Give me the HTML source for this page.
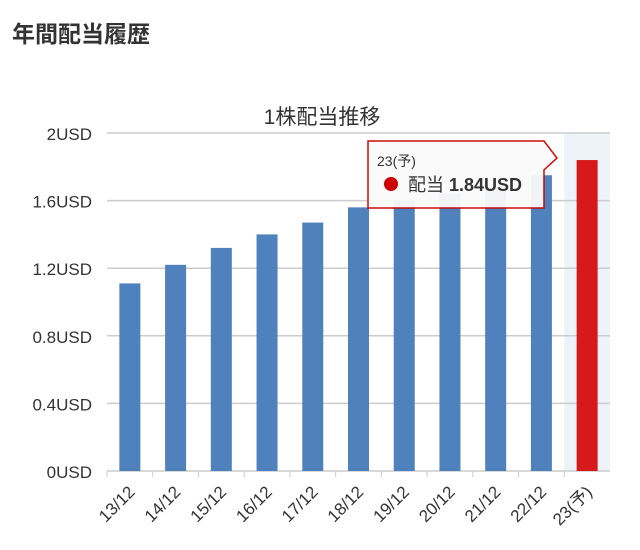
<!DOCTYPE html>
<html><head><meta charset="utf-8"><style>
body{margin:0;background:#fff;width:640px;height:545px;overflow:hidden;font-family:"Liberation Sans","Noto Sans CJK JP",sans-serif}
svg text{font-family:"Liberation Sans","Noto Sans CJK JP",sans-serif}
</style></head><body>
<svg id="c" width="640" height="545">
<text x="12" y="42" font-size="23" font-weight="bold" fill="#333">年間配当履歴</text>
<text x="322" y="124" font-size="21" fill="#333" text-anchor="middle">1株配当推移</text>
<g id="grid"></g><g id="bars"></g><g id="xl"></g>
<g>
<path d="M368,141 H544 L557,158 L544,170 V208 H368 Z" fill="#fafafa" stroke="#c00" stroke-width="1.5" opacity="0.95"/>
<text x="377" y="166" font-size="14" fill="#333">23(予)</text>
<circle cx="391" cy="184" r="7" fill="#c00"/>
<text x="408" y="191" font-size="18" fill="#333">配当 <tspan font-weight="bold">1.84USD</tspan></text>
</g>
</svg>
<script>
const categories=["13/12","14/12","15/12","16/12","17/12","18/12","19/12","20/12","21/12","22/12","23(予)"];
const values=[1.11,1.22,1.32,1.40,1.47,1.56,1.60,1.64,1.68,1.75,1.84];
const ticks=[0,0.4,0.8,1.2,1.6,2];
const tickLabels=["0USD","0.4USD","0.8USD","1.2USD","1.6USD","2USD"];
const NS="http://www.w3.org/2000/svg";
const x0=107,x1=610,y0=471,y1=133;
const bw=(x1-x0)/categories.length;
const y=v=>y0-(v/2)*(y0-y1);
const cx=i=>x0+bw*(i+0.5);
function mk(t,a,p){const e=document.createElementNS(NS,t);for(const k in a)e.setAttribute(k,a[k]);p.appendChild(e);return e;}
const g=document.getElementById('grid'),b=document.getElementById('bars'),xl=document.getElementById('xl');
const hl=mk('rect',{x:x0+bw*10,y:y1,width:bw,height:y0-y1,fill:'#eef2f9'},g);


ticks.forEach((t,i)=>{
 const l=mk('line',{x1:x0,x2:x1,y1:y(t),y2:y(t),stroke:'#ccc','stroke-width':1.5},g);
 
 
 const tx=mk('text',{x:92,y:y(t)+7,'font-size':17,fill:'#333','text-anchor':'end'},g);
 tx.textContent=tickLabels[i];
 
 
});
categories.forEach((c,i)=>{
 const r=mk('rect',{x:cx(i)-10.5,y:y(values[i]),width:21,height:y0-y(values[i]),fill:i==10?'#d7191c':'#4f81bd'},b);
 
 
 const tk=mk('line',{x1:x0+bw*i,x2:x0+bw*i,y1:y0,y2:y0+6,stroke:'#ccc'},g);
 
 
 const t=mk('text',{x:cx(i)+6,y:y0+22,'font-size':17,fill:'#333','text-anchor':'end',transform:`rotate(-45 ${cx(i)+6} ${y0+22})`},xl);
 t.textContent=c;
 
 
});
</script>
</body></html>
